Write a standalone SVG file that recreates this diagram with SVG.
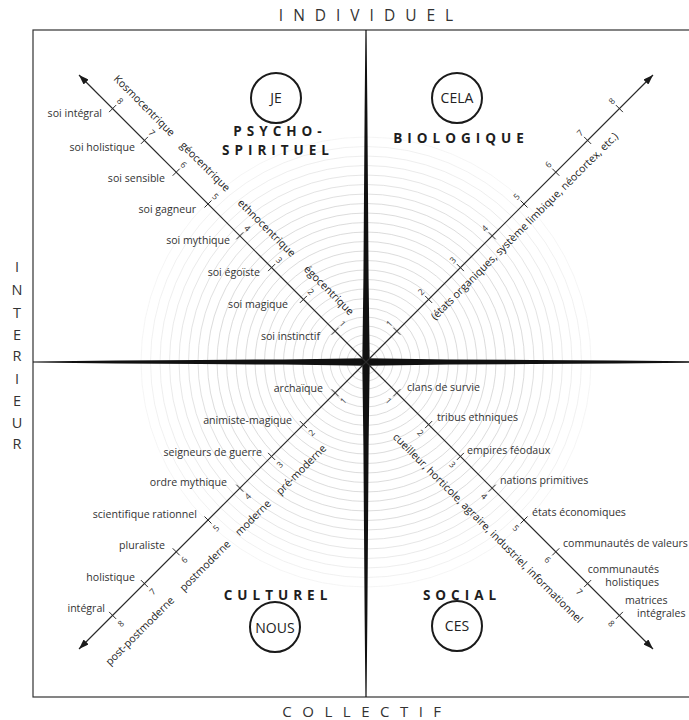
<svg xmlns="http://www.w3.org/2000/svg" width="689" height="720" viewBox="0 0 689 720">
<style>
.lbl{font-family:"Open Sans","Liberation Sans",sans-serif;font-size:10.6px;fill:#333}
.end{text-anchor:end}
.rot{font-family:"Open Sans","Liberation Sans",sans-serif;font-size:10.6px;fill:#222;text-anchor:middle}
.dig{font-family:"Open Sans","Liberation Sans",sans-serif;font-size:8.5px;fill:#333;text-anchor:middle;dominant-baseline:central}
.head{font-family:"Open Sans","Liberation Sans",sans-serif;font-size:13.5px;font-weight:700;fill:#1e1e1e;letter-spacing:5px;text-anchor:middle}
.axis{font-family:"Open Sans","Liberation Sans",sans-serif;fill:#333;text-anchor:middle}
.circ{fill:none;stroke:#1a1a1a;stroke-width:2}
.ctext{font-family:"Open Sans","Liberation Sans",sans-serif;font-size:14px;fill:#222;text-anchor:middle}
.diag{stroke:#2a2a2a;stroke-width:1.2;fill:none}
.tick{stroke:#2a2a2a;stroke-width:1}
.ring{fill:none;stroke:#cdcdcd;stroke-width:0.7}
</style>
<defs>
<marker id="ah" viewBox="0 0 10 7" refX="10" refY="3.5" markerWidth="10" markerHeight="7" markerUnits="userSpaceOnUse" orient="auto"><path d="M0,0 L10,3.5 L0,7 z" fill="#1a1a1a"/></marker>
</defs>
<rect width="689" height="720" fill="#fff"/>
<g id="rings">
<circle class="ring" cx="366" cy="362" r="6"/><circle class="ring" cx="366" cy="362" r="12"/><circle class="ring" cx="366" cy="362" r="19"/><circle class="ring" cx="366" cy="362" r="27"/><circle class="ring" cx="366" cy="362" r="36"/><circle class="ring" cx="366" cy="362" r="45"/><circle class="ring" cx="366" cy="362" r="54"/><circle class="ring" cx="366" cy="362" r="63.5"/><circle class="ring" cx="366" cy="362" r="73"/><circle class="ring" cx="366" cy="362" r="82.5"/><circle class="ring" cx="366" cy="362" r="92"/><circle class="ring" cx="366" cy="362" r="101.5"/><circle class="ring" cx="366" cy="362" r="111"/><circle class="ring" cx="366" cy="362" r="120.5"/><circle class="ring" cx="366" cy="362" r="130"/><circle class="ring" cx="366" cy="362" r="139.5"/><circle class="ring" cx="366" cy="362" r="149"/><circle class="ring" cx="366" cy="362" r="158.5"/><circle class="ring" cx="366" cy="362" r="168" opacity="0.9"/><circle class="ring" cx="366" cy="362" r="177.5" opacity="0.8"/><circle class="ring" cx="366" cy="362" r="187" opacity="0.7"/><circle class="ring" cx="366" cy="362" r="196.5" opacity="0.6"/><circle class="ring" cx="366" cy="362" r="206" opacity="0.5"/><circle class="ring" cx="366" cy="362" r="215.5" opacity="0.4"/><circle class="ring" cx="366" cy="362" r="225" opacity="0.3"/>
</g>
<g id="frame">
<rect x="33" y="30" width="666" height="667" fill="none" stroke="#333" stroke-width="1.2"/>
</g>
<g id="axis-labels">
<text class="axis" x="371" y="21" font-size="15.5" letter-spacing="10">INDIVIDUEL</text>
<text class="axis" x="367" y="717" font-size="15" letter-spacing="10.5">COLLECTIF</text>
<text class="axis" font-size="14.5"><tspan x="17" y="272">I</tspan><tspan x="17" y="295">N</tspan><tspan x="17" y="318">T</tspan><tspan x="17" y="340">E</tspan><tspan x="17" y="361">R</tspan><tspan x="17" y="384">I</tspan><tspan x="17" y="406">E</tspan><tspan x="17" y="428">U</tspan><tspan x="17" y="449">R</tspan></text>
</g>
<g id="connectors">
<polygon points="33,361.4 116,360.6 200,360 283,359.4 366,358.3 449,359.4 532,360 616,360.6 699,361.4 699,362.6 616,363.4 532,364 449,364.6 366,365.7 283,364.6 200,364 116,363.4 33,362.6" fill="#111"/>
<polygon points="365.4,30 364.6,113 364,196 363.4,279 362.3,362 363.4,446 364,530 364.6,613 365.4,697 366.6,697 367.4,613 368,530 368.6,446 369.7,362 368.6,279 368,196 367.4,113 366.6,30" fill="#111"/>
<line class="diag" x1="366" y1="362" x2="79" y2="75" marker-end="url(#ah)"/>
<line class="diag" x1="366" y1="362" x2="653" y2="75" marker-end="url(#ah)"/>
<line class="diag" x1="366" y1="362" x2="79" y2="649" marker-end="url(#ah)"/>
<line class="diag" x1="366" y1="362" x2="653" y2="649" marker-end="url(#ah)"/>
<g id="ticks-ul">
<line class="tick" x1="331.7" y1="334.7" x2="338.7" y2="327.7"/><line class="tick" x1="299.9" y1="302.9" x2="306.9" y2="295.9"/><line class="tick" x1="268.1" y1="271.1" x2="275.1" y2="264.1"/><line class="tick" x1="236.3" y1="239.3" x2="243.3" y2="232.3"/><line class="tick" x1="204.5" y1="207.5" x2="211.5" y2="200.5"/><line class="tick" x1="172.7" y1="175.7" x2="179.7" y2="168.7"/><line class="tick" x1="140.9" y1="143.9" x2="147.9" y2="136.9"/><line class="tick" x1="109.1" y1="112.1" x2="116.1" y2="105.1"/>
</g>
<g id="ticks-ur">
<line class="tick" x1="393.3" y1="327.7" x2="400.3" y2="334.7"/><line class="tick" x1="425.1" y1="295.9" x2="432.1" y2="302.9"/><line class="tick" x1="456.9" y1="264.1" x2="463.9" y2="271.1"/><line class="tick" x1="488.7" y1="232.3" x2="495.7" y2="239.3"/><line class="tick" x1="520.5" y1="200.5" x2="527.5" y2="207.5"/><line class="tick" x1="552.3" y1="168.7" x2="559.3" y2="175.7"/><line class="tick" x1="584.1" y1="136.9" x2="591.1" y2="143.9"/><line class="tick" x1="615.9" y1="105.1" x2="622.9" y2="112.1"/>
</g>
<g id="ticks-ll">
<line class="tick" x1="331.7" y1="389.3" x2="338.7" y2="396.3"/><line class="tick" x1="299.9" y1="421.1" x2="306.9" y2="428.1"/><line class="tick" x1="268.1" y1="452.9" x2="275.1" y2="459.9"/><line class="tick" x1="236.3" y1="484.7" x2="243.3" y2="491.7"/><line class="tick" x1="204.5" y1="516.5" x2="211.5" y2="523.5"/><line class="tick" x1="172.7" y1="548.3" x2="179.7" y2="555.3"/><line class="tick" x1="140.9" y1="580.1" x2="147.9" y2="587.1"/><line class="tick" x1="109.1" y1="611.9" x2="116.1" y2="618.9"/>
</g>
<g id="ticks-lr">
<line class="tick" x1="393.3" y1="396.3" x2="400.3" y2="389.3"/><line class="tick" x1="425.1" y1="428.1" x2="432.1" y2="421.1"/><line class="tick" x1="456.9" y1="459.9" x2="463.9" y2="452.9"/><line class="tick" x1="488.7" y1="491.7" x2="495.7" y2="484.7"/><line class="tick" x1="520.5" y1="523.5" x2="527.5" y2="516.5"/><line class="tick" x1="552.3" y1="555.3" x2="559.3" y2="548.3"/><line class="tick" x1="584.1" y1="587.1" x2="591.1" y2="580.1"/><line class="tick" x1="615.9" y1="618.9" x2="622.9" y2="611.9"/>
</g>
</g>
<g id="digits">
<text class="dig" transform="translate(343,323.4) rotate(45)">1</text><text class="dig" transform="translate(311.2,291.6) rotate(45)">2</text><text class="dig" transform="translate(279.4,259.8) rotate(45)">3</text><text class="dig" transform="translate(247.6,228) rotate(45)">4</text><text class="dig" transform="translate(215.8,196.2) rotate(45)">5</text><text class="dig" transform="translate(184,164.4) rotate(45)">6</text><text class="dig" transform="translate(152.2,132.6) rotate(45)">7</text><text class="dig" transform="translate(120.4,100.8) rotate(45)">8</text>
<text class="dig" transform="translate(389,323.4) rotate(-45)">1</text><text class="dig" transform="translate(420.8,291.6) rotate(-45)">2</text><text class="dig" transform="translate(452.6,259.8) rotate(-45)">3</text><text class="dig" transform="translate(484.4,228) rotate(-45)">4</text><text class="dig" transform="translate(516.2,196.2) rotate(-45)">5</text><text class="dig" transform="translate(548,164.4) rotate(-45)">6</text><text class="dig" transform="translate(579.8,132.6) rotate(-45)">7</text><text class="dig" transform="translate(611.6,100.8) rotate(-45)">8</text>
<text class="dig" transform="translate(343,400.6) rotate(-45)">1</text><text class="dig" transform="translate(311.2,432.4) rotate(-45)">2</text><text class="dig" transform="translate(279.4,464.2) rotate(-45)">3</text><text class="dig" transform="translate(247.6,496) rotate(-45)">4</text><text class="dig" transform="translate(215.8,527.8) rotate(-45)">5</text><text class="dig" transform="translate(184,559.6) rotate(-45)">6</text><text class="dig" transform="translate(152.2,591.4) rotate(-45)">7</text><text class="dig" transform="translate(120.4,623.2) rotate(-45)">8</text>
<text class="dig" transform="translate(389,400.6) rotate(45)">1</text><text class="dig" transform="translate(420.8,432.4) rotate(45)">2</text><text class="dig" transform="translate(452.6,464.2) rotate(45)">3</text><text class="dig" transform="translate(484.4,496) rotate(45)">4</text><text class="dig" transform="translate(516.2,527.8) rotate(45)">5</text><text class="dig" transform="translate(548,559.6) rotate(45)">6</text><text class="dig" transform="translate(579.8,591.4) rotate(45)">7</text><text class="dig" transform="translate(611.6,623.2) rotate(45)">8</text>
</g>
<g id="node-je">
<circle class="circ" cx="276" cy="98" r="25"/>
<text class="ctext" x="276" y="103">JE</text>
<text class="head" x="280" y="136">PSYCHO-</text>
<text class="head" x="278" y="155">SPIRITUEL</text>
</g>
<g id="node-cela">
<circle class="circ" cx="457" cy="98" r="25"/>
<text class="ctext" x="457" y="103" font-size="13.5">CELA</text>
<text class="head" x="461" y="143">BIOLOGIQUE</text>
</g>
<g id="node-nous">
<circle class="circ" cx="275" cy="627" r="25"/>
<text class="ctext" x="275" y="632.5" font-size="15">NOUS</text>
<text class="head" x="278" y="600">CULTUREL</text>
</g>
<g id="node-ces">
<circle class="circ" cx="457" cy="626" r="25"/>
<text class="ctext" x="457" y="631">CES</text>
<text class="head" x="462" y="600">SOCIAL</text>
</g>
<g id="labels-ul">
<text class="lbl end" x="102" y="117">soi intégral</text>
<text class="lbl end" x="135" y="151">soi holistique</text>
<text class="lbl end" x="165" y="182">soi sensible</text>
<text class="lbl end" x="196" y="213">soi gagneur</text>
<text class="lbl end" x="230" y="244">soi mythique</text>
<text class="lbl end" x="260" y="276">soi égoïste</text>
<text class="lbl end" x="288" y="308">soi magique</text>
<text class="lbl end" x="320" y="340">soi instinctif</text>
<text class="rot" transform="translate(141.8,108.2) rotate(45)">Kosmocentrique</text>
<text class="rot" transform="translate(202.6,169) rotate(45)">géocentrique</text>
<text class="rot" transform="translate(264.1,230.5) rotate(45)">ethnocentrique</text>
<text class="rot" transform="translate(326.4,292.8) rotate(45)">égocentrique</text>
</g>
<g id="labels-ur">
<text class="rot" transform="translate(527,228.8) rotate(-45)">(états organiques, système limbique, néocortex, etc.)</text>
</g>
<g id="labels-ll">
<text class="lbl end" x="323" y="392">archaïque</text>
<text class="lbl end" x="292" y="424">animiste-magique</text>
<text class="lbl end" x="262" y="456">seigneurs de guerre</text>
<text class="lbl end" x="227" y="486">ordre mythique</text>
<text class="lbl end" x="197" y="518">scientifique rationnel</text>
<text class="lbl end" x="165" y="549">pluraliste</text>
<text class="lbl end" x="135" y="581">holistique</text>
<text class="lbl end" x="105" y="612">intégral</text>
<text class="rot" transform="translate(303.7,472.3) rotate(-45)">pré-moderne</text>
<text class="rot" transform="translate(255.6,520.4) rotate(-45)">moderne</text>
<text class="rot" transform="translate(207.6,568.4) rotate(-45)">postmoderne</text>
<text class="rot" transform="translate(142.5,633.5) rotate(-45)">post-postmoderne</text>
</g>
<g id="labels-lr">
<text class="lbl" x="407" y="391">clans de survie</text>
<text class="lbl" x="437" y="421">tribus ethniques</text>
<text class="lbl" x="467" y="454">empires féodaux</text>
<text class="lbl" x="500" y="484">nations primitives</text>
<text class="lbl" x="532" y="516">états économiques</text>
<text class="lbl" x="563" y="547">communautés de valeurs</text>
<text class="lbl end" x="659" y="573">communautés</text>
<text class="lbl end" x="659" y="586">holistiques</text>
<text class="lbl" x="625" y="604">matrices</text>
<text class="lbl" x="637" y="617">intégrales</text>
<text class="rot" transform="translate(485.3,530.7) rotate(45)">cueilleur, horticole, agraire, industriel, informationnel</text>
</g>
</svg>
